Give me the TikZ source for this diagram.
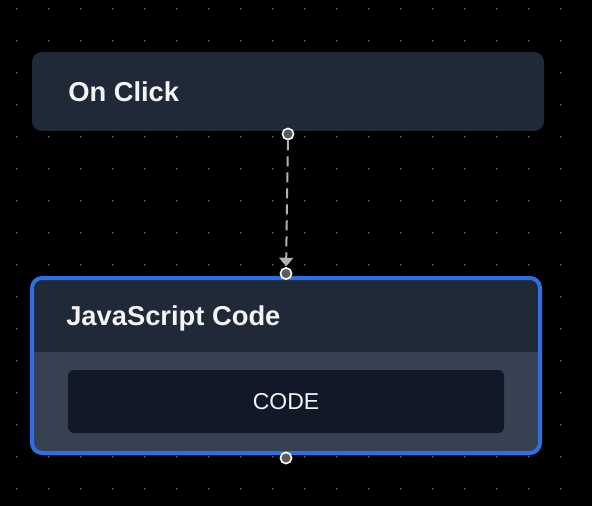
\documentclass[tikz,border=0pt]{standalone}
\usepackage{fontspec}
\setmainfont{Liberation Sans}
\usetikzlibrary{arrows.meta}
\definecolor{bg}{HTML}{000000}
\definecolor{dotc}{HTML}{5A5A5A}
\definecolor{hdr}{HTML}{1F2937}
\definecolor{body}{HTML}{374151}
\definecolor{codebg}{HTML}{111827}
\definecolor{selblue}{HTML}{2F6FE4}
\definecolor{txt}{HTML}{F3F4F6}
\definecolor{edgec}{HTML}{B1B1B7}
\definecolor{handlec}{HTML}{5C5C5C}
\tikzset{
  card/.style={rectangle, rounded corners=7.5pt, fill=hdr, inner sep=0pt},
  titletext/.style={anchor=base west, inner sep=0pt, text=txt, font=\bfseries\fontsize{20.5}{25}\selectfont},
  codebox/.style={rectangle, rounded corners=4.5pt, fill=codebg, inner sep=0pt, text=txt,
     font=\fontsize{17.25}{20}\selectfont, minimum width=327pt, minimum height=47.25pt},
  handle/.style={circle, fill=handlec, draw=white, line width=1.2pt, inner sep=0pt, minimum size=8.4pt},
  flow/.style={draw=edgec, line width=1.5pt, dash pattern=on 7.5pt off 4.5pt,
     -{Triangle[width=10.5pt,length=6.5pt]}},
}
\begin{document}
\begin{tikzpicture}[x=0.75pt,y=-0.75pt]
\useasboundingbox (0,0) rectangle (592,506);
\fill[bg] (0,0) rectangle (592,506);
% dot grid
\foreach \i in {0,...,18}{
  \foreach \j in {0,...,15}{
    \fill[dotc] (16.7+32*\i, 8.7+32*\j) circle[radius=0.8pt];
  }
}
% top node
\node[card, minimum width=384pt, minimum height=59.25pt] (click) at (288,91.5) {};
\node[titletext] (clickt) at (68,102) {On Click};
% bottom node
\node[card, fill=body, draw=selblue, line width=3pt, minimum width=381pt, minimum height=131.25pt,
  path picture={\fill[hdr, sharp corners] (path picture bounding box.north west) rectangle
     ([yshift=-55.5pt]path picture bounding box.north east);}] (js) at (286,365.5) {};
\node[titletext] (jst) at (66,325) {JavaScript Code};
\node[codebox] (code) at (286,401.5) {CODE};
% handles
\node[handle] (h1) at (288,134) {};
\node[handle] (h2) at (286,273.5) {};
\node[handle] (h3) at (286,458) {};
\draw[flow, shorten >=0.5pt] (h1) -- (h2);
\end{tikzpicture}
\end{document}
